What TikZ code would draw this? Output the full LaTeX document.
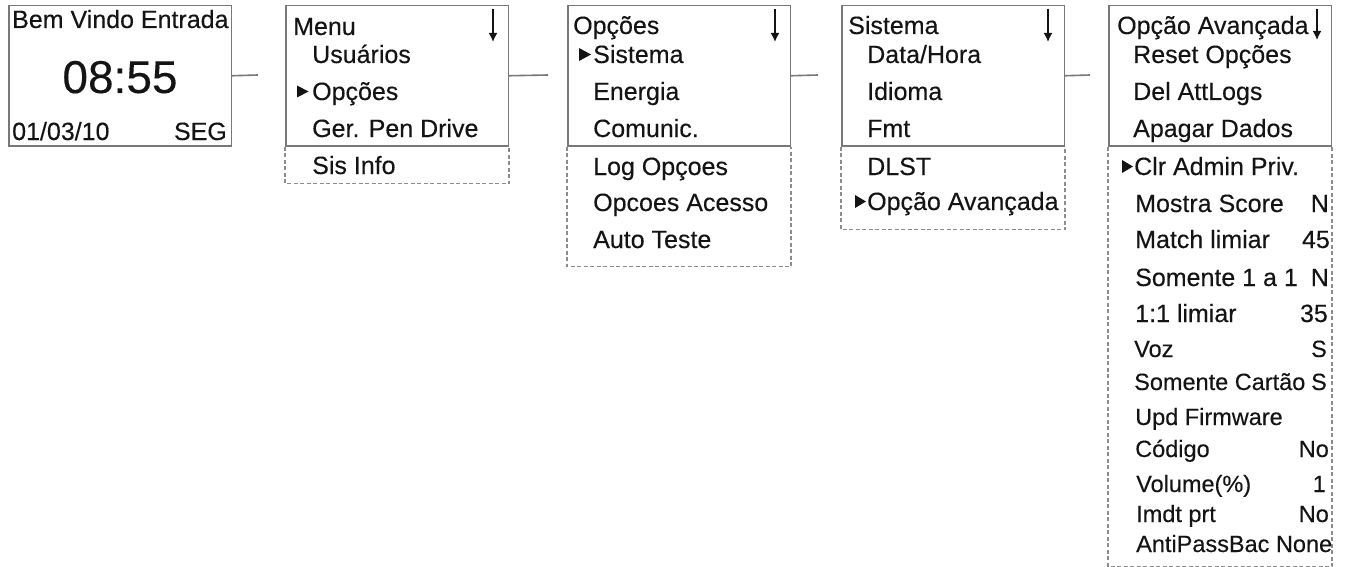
\documentclass[tikz,border=0pt]{standalone}
\usepackage{fontspec}
\setmainfont[FakeBold=0.25]{Liberation Sans}
\usetikzlibrary{arrows.meta}
\definecolor{bord}{RGB}{120,120,120}
\definecolor{dashcol}{RGB}{140,140,140}
\definecolor{txt}{RGB}{20,20,20}
\begin{document}
\begin{tikzpicture}[x=1pt,y=-1pt,
  screen/.style={draw=bord,line width=1.5pt,minimum width=222.5pt,minimum height=140pt,anchor=north west,inner sep=0pt},
  ext/.style={draw=dashcol,line width=1.2pt,dash pattern=on 4pt off 2.5pt},
  lbl/.style={anchor=base west,inner sep=0pt,text=txt,font=\fontsize{25}{30}\selectfont},
  val/.style={anchor=base east,inner sep=0pt,text=txt,font=\fontsize{25}{30}\selectfont},
  sm/.style={font=\fontsize{23.5}{28}\selectfont},
  conn/.style={draw=bord,line width=1.6pt},
  downarrow/.style={draw=txt,line width=1.7pt,-{Latex[length=9pt,width=9pt]}},
  sel/.style={fill=txt}]
\useasboundingbox (0,0) rectangle (1351,567);

% screens
\node[screen] (b1) at (8,5) {};
\node[screen] (b2) at (285,5) {};
\node[screen] (b3) at (567,5) {};
\node[screen] (b4) at (841,5) {};
\node[screen] (b5) at (1108,5) {};

% dashed extensions
\draw[ext] (b2.south west) -- ++(0,37) -| (b2.south east);
\draw[ext] (b3.south west) -- ++(0,120) -| (b3.south east);
\draw[ext] (b4.south west) -- ++(0,83) -| (b4.south east);
\draw[ext] (b5.south west) -- ++(0,420) -| (b5.south east);

% connectors
\coordinate (c1) at (258,75);
\coordinate (c2) at (548,75);
\coordinate (c3) at (818,75);
\coordinate (c4) at (1090,75);
\draw[conn] (b1.east) -- (c1);
\draw[conn] (b2.east) -- (c2);
\draw[conn] (b3.east) -- (c3);
\draw[conn] (b4.east) -- (c4);

% screen 1
\node[lbl] (t11) at (12,28) {Bem Vindo Entrada};
\node[anchor=base,inner sep=0pt,text=txt,font=\fontsize{46}{50}\selectfont] (t12) at (120,93) {08:55};
\node[lbl] (t13) at (12,140) {01/03/10};
\node[val] (t14) at (227,140) {SEG};

% screen 2
\node[lbl] (t21) at (293,35) {Menu};
\node[lbl] (t22) at (312,63) {Usuários};
\node[lbl] (t23) at (312,100) {Opções};
\node[lbl] (t24) at (312,137) {Ger. Pen Drive};
\node[lbl] (t25) at (312,174) {Sis Info};
\fill[sel] (297,85.5) -- (297,97.5) -- (308.5,91.5) -- cycle;
\draw[downarrow] (493,9) -- (493,42);

% screen 3
\node[lbl] (t31) at (573,34) {Opções};
\node[lbl] (t32) at (593,63) {Sistema};
\node[lbl] (t33) at (593,100) {Energia};
\node[lbl] (t34) at (593,137) {Comunic.};
\node[lbl] (t35) at (593,175) {Log Opçoes};
\node[lbl] (t36) at (593,211) {Opcoes Acesso};
\node[lbl] (t37) at (593,248) {Auto Teste};
\fill[sel] (579,48) -- (579,61) -- (591,54.5) -- cycle;
\draw[downarrow] (775,9) -- (775,42);

% screen 4
\node[lbl] (t41) at (848,34) {Sistema};
\node[lbl] (t42) at (867,63) {Data/Hora};
\node[lbl] (t43) at (867,100) {Idioma};
\node[lbl] (t44) at (867,137) {Fmt};
\node[lbl] (t45) at (867,175) {DLST};
\node[lbl] (t46) at (867,210) {Opção Avançada};
\fill[sel] (855,195) -- (855,208) -- (866,201.5) -- cycle;
\draw[downarrow] (1048,9) -- (1048,42);

% screen 5
\node[lbl] (t51) at (1117,34) {Opção Avançada};
\node[lbl] (t52) at (1133,63) {Reset Opções};
\node[lbl] (t53) at (1133,100) {Del AttLogs};
\node[lbl] (t54) at (1133,137) {Apagar Dados};
\node[lbl] (t55) at (1134,175) {Clr Admin Priv.};
\fill[sel] (1122,160) -- (1122,173) -- (1133,166.5) -- cycle;
\node[lbl] (t56) at (1135,212) {Mostra Score};
\node[val] (v56) at (1329,212) {N};
\node[lbl] (t57) at (1135,248) {Match limiar};
\node[val] (v57) at (1330,248) {45};
\node[lbl] (t58) at (1135,286) {Somente 1 a 1};
\node[val] (v58) at (1329,286) {N};
\node[lbl] (t59) at (1135,322) {1:1 limiar};
\node[val] (v59) at (1328,322) {35};
\node[lbl,sm] (t60) at (1134,357) {Voz};
\node[val,sm] (v60) at (1327,357) {S};
\node[lbl,sm] (t61) at (1134,390) {Somente Cartão};
\node[val,sm] (v61) at (1327,390) {S};
\node[lbl,sm] (t62) at (1135,425) {Upd Firmware};
\node[lbl,sm] (t63) at (1135,457) {Código};
\node[val,sm] (v63) at (1329,457) {No};
\node[lbl,sm] (t64) at (1136,492) {Volume(\%)};
\node[val,sm] (v64) at (1326,492) {1};
\node[lbl,sm] (t65) at (1136,522) {Imdt prt};
\node[val,sm] (v65) at (1329,522) {No};
\node[lbl,sm] (t66) at (1136,552) {AntiPassBac None};
\draw[downarrow] (1317,9) -- (1317,40);
\end{tikzpicture}
\end{document}
